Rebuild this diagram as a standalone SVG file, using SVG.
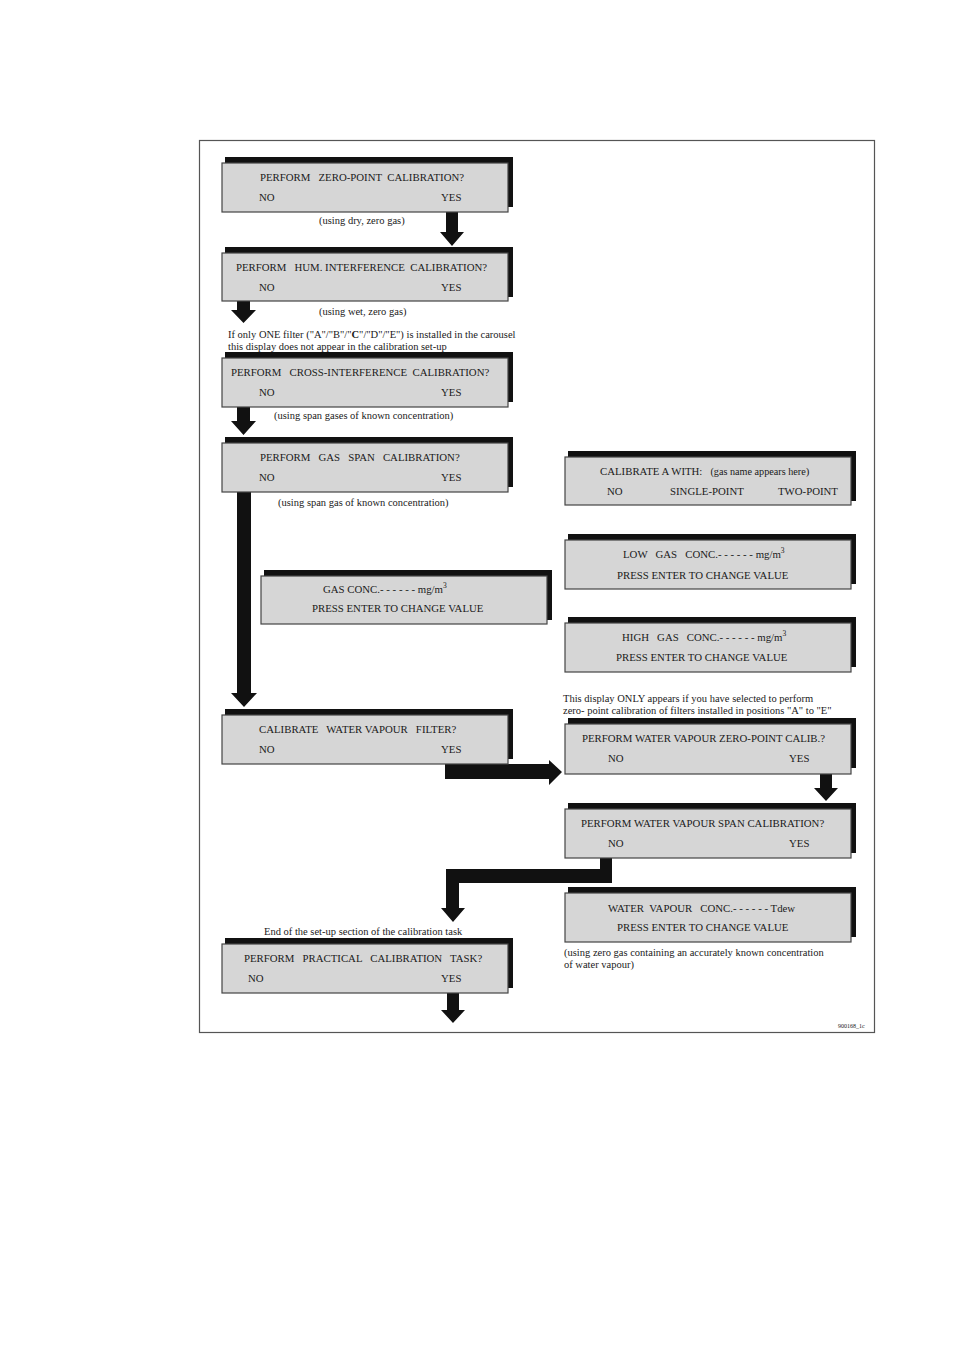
<svg xmlns="http://www.w3.org/2000/svg" width="955" height="1350" viewBox="0 0 955 1350">
<style>
text{font-family:"Liberation Serif","Times New Roman",serif;font-size:10.8px;fill:#1a1a1a;white-space:pre}
.nt{font-size:10.5px}
.sm{font-size:10.2px}
.box{fill:#d6d6d6;stroke:#444;stroke-width:1.2}
.sh{fill:#111}
.arr{fill:#111}
</style>
<rect x="0" y="0" width="955" height="1350" fill="#fff"/>
<rect x="199.5" y="140.5" width="675" height="892" fill="none" stroke="#555" stroke-width="1.2"/>

<g id="connectors">
<polygon class="arr" points="446,212 458,212 458,232 464,232 452,246 440,232 446,232"/>
<polygon class="arr" points="237,301 250,301 250,310 256,310 243.5,323 231,310 237,310"/>
<polygon class="arr" points="237,407 250,407 250,421 256,421 243.5,435 231,421 237,421"/>
<polygon class="arr" points="237,492 251,492 251,693 257,693 244,707 231,693 237,693"/>
<polygon class="arr" points="445,764 549,764 549,760 562,772 549,785 549,779 445,779"/>
<polygon class="arr" points="820,774 832,774 832,788 838,788 826,801 814,788 820,788"/>
<polygon class="arr" points="600,858 612,858 612,883 459,883 459,908 465,908 453,922 441,908 446,908 446,869 600,869"/>
<polygon class="arr" points="447,993 459,993 459,1010 465,1010 453,1023 441,1010 447,1010"/>
</g>

<g id="n1">
<rect class="sh" x="225" y="157" width="288" height="50"/>
<rect class="box" x="222" y="163" width="286" height="49"/>
<text x="260" y="181">PERFORM   ZERO-POINT  CALIBRATION?</text>
<text x="259" y="201">NO</text><text x="441" y="201">YES</text>
<text class="nt" x="319" y="224">(using dry, zero gas)</text>
</g>

<g id="n2">
<rect class="sh" x="225" y="247" width="288" height="50"/>
<rect class="box" x="222" y="253" width="286" height="48"/>
<text x="236" y="271">PERFORM   HUM. INTERFERENCE  CALIBRATION?</text>
<text x="259" y="291">NO</text><text x="441" y="291">YES</text>
<text class="nt" x="319" y="315">(using wet, zero gas)</text>
<text class="nt" x="228" y="338">If only ONE filter ("A"/"B"/"<tspan font-weight="bold">C</tspan>"/"D"/"E") is installed in the carousel</text>
<text class="nt" x="228" y="350">this display does not appear in the calibration set-up</text>
</g>

<g id="n3">
<rect class="sh" x="225" y="352" width="288" height="50"/>
<rect class="box" x="222" y="358" width="286" height="49"/>
<text x="231" y="376">PERFORM   CROSS-INTERFERENCE  CALIBRATION?</text>
<text x="259" y="396">NO</text><text x="441" y="396">YES</text>
<text class="nt" x="274" y="419">(using span gases of known concentration)</text>
</g>

<g id="n4">
<rect class="sh" x="225" y="437" width="288" height="50"/>
<rect class="box" x="222" y="443" width="286" height="49"/>
<text x="260" y="461">PERFORM   GAS   SPAN   CALIBRATION?</text>
<text x="259" y="481">NO</text><text x="441" y="481">YES</text>
<text class="nt" x="278" y="506">(using span gas of known concentration)</text>
</g>

<g id="n5">
<rect class="sh" x="264" y="570" width="288" height="50"/>
<rect class="box" x="261" y="576" width="286" height="48"/>
<text x="323" y="593">GAS CONC.- - - - - - mg/m<tspan dy="-5" font-size="7.5">3</tspan></text>
<text x="312" y="612">PRESS ENTER TO CHANGE VALUE</text>
</g>

<g id="n6">
<rect class="sh" x="568" y="451" width="288" height="50"/>
<rect class="box" x="565" y="457" width="286" height="48"/>
<text x="600" y="475">CALIBRATE A WITH:   <tspan class="sm">(gas name appears here</tspan>)</text>
<text x="607" y="495">NO</text><text x="670" y="495">SINGLE-POINT</text><text x="778" y="495">TWO-POINT</text>
</g>

<g id="n7">
<rect class="sh" x="568" y="534" width="288" height="50"/>
<rect class="box" x="565" y="540" width="286" height="49"/>
<text x="623" y="558">LOW   GAS   CONC.- - - - - - mg/m<tspan dy="-5" font-size="7.5">3</tspan></text>
<text x="617" y="579">PRESS ENTER TO CHANGE VALUE</text>
</g>

<g id="n8">
<rect class="sh" x="568" y="617" width="288" height="50"/>
<rect class="box" x="565" y="623" width="286" height="49"/>
<text x="622" y="641">HIGH   GAS   CONC.- - - - - - mg/m<tspan dy="-5" font-size="7.5">3</tspan></text>
<text x="616" y="661">PRESS ENTER TO CHANGE VALUE</text>
</g>

<g id="n9">
<rect class="sh" x="225" y="709" width="288" height="50"/>
<rect class="box" x="222" y="715" width="286" height="49"/>
<text x="259" y="733">CALIBRATE   WATER VAPOUR   FILTER?</text>
<text x="259" y="753">NO</text><text x="441" y="753">YES</text>
</g>

<g id="n10">
<text class="nt" x="563" y="702">This display ONLY appears if you have selected to perform</text>
<text class="nt" x="563" y="714">zero- point calibration of filters installed in positions "A" to "E"</text>
<rect class="sh" x="568" y="718" width="288" height="50"/>
<rect class="box" x="565" y="724" width="286" height="50"/>
<text x="582" y="742">PERFORM WATER VAPOUR ZERO-POINT CALIB.?</text>
<text x="608" y="762">NO</text><text x="789" y="762">YES</text>
</g>

<g id="n11">
<rect class="sh" x="568" y="803" width="288" height="50"/>
<rect class="box" x="565" y="809" width="286" height="49"/>
<text x="581" y="827">PERFORM WATER VAPOUR SPAN CALIBRATION?</text>
<text x="608" y="847">NO</text><text x="789" y="847">YES</text>
</g>

<g id="n12">
<rect class="sh" x="568" y="887" width="288" height="50"/>
<rect class="box" x="565" y="893" width="286" height="49"/>
<text x="608" y="912">WATER  VAPOUR   CONC.- - - - - - Tdew</text>
<text x="617" y="931">PRESS ENTER TO CHANGE VALUE</text>
<text class="nt" x="564" y="956">(using zero gas containing an accurately known concentration</text>
<text class="nt" x="564" y="968">of water vapour)</text>
</g>

<g id="n13">
<text class="nt" x="264" y="935">End of the set-up section of the calibration task</text>
<rect class="sh" x="225" y="938" width="288" height="50"/>
<rect class="box" x="222" y="944" width="286" height="49"/>
<text x="244" y="962">PERFORM   PRACTICAL   CALIBRATION   TASK?</text>
<text x="248" y="982">NO</text><text x="441" y="982">YES</text>
</g>

<text x="838" y="1028" style="font-size:6px">900168_1c</text>
</svg>
